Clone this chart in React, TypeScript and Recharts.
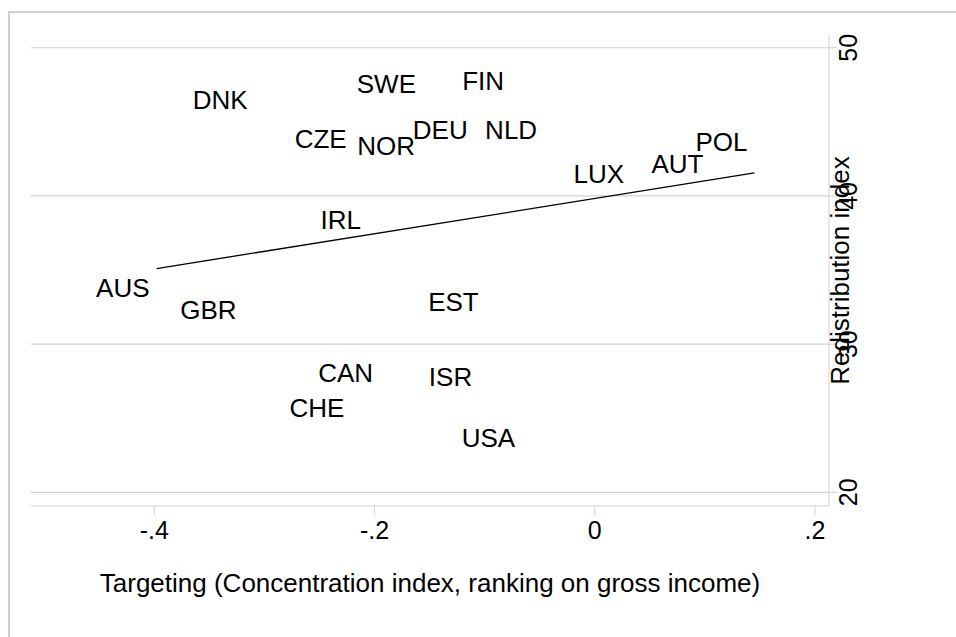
import React from "react";
import { ComposedChart, Scatter, XAxis, YAxis, ReferenceLine } from "recharts";

// country codes, targeting (x) and redistribution index (y)
const countries = ["DNK", "SWE", "FIN", "CZE", "NOR", "DEU", "NLD", "POL", "AUT", "LUX", "IRL", "AUS", "GBR", "EST", "CAN", "ISR", "CHE", "USA"];
const targeting = [-0.309, -0.156, -0.076, -0.219, -0.157, -0.109, -0.046, 0.145, 0.105, 0.033, -0.206, -0.398, -0.319, -0.099, -0.195, -0.105, -0.221, -0.066];
const redistribution = [46.5, 47.55, 47.8, 43.9, 43.4, 44.45, 44.45, 43.65, 42.2, 41.5, 38.4, 33.8, 32.3, 32.85, 28.05, 27.8, 25.75, 23.7];

// linear fit endpoints
const fitX = [-0.398, 0.145];
const fitY = [35.1, 41.55];

const xTicks = [-0.4, -0.2, 0, 0.2];
const yTicks = [20, 30, 40, 50];

const points = countries.map((name, i) => ({ name, x: targeting[i], y: redistribution[i] }));
const fit = fitX.map((x, i) => ({ x, y: fitY[i] }));

const FONT = "'Liberation Sans', Arial, Helvetica, sans-serif";
const GRID = "#d0d0d0";
const FS = 26;

const fmtX = (v: number) => (v === 0 ? "0" : v.toFixed(1).replace("0.", "."));

const CountryLabel = (props: any) => {
  const { cx, cy, payload } = props;
  return (
    <text x={cx - 7} y={cy} dy="0.36em" textAnchor="end" fontSize={FS} fill="#000" fontFamily={FONT}>
      {payload.name}
    </text>
  );
};

const YTick = (props: any) => {
  const { x, y, payload } = props;
  const bx = x + 20;
  return (
    <text x={bx} y={y} transform={`rotate(-90 ${bx} ${y})`} textAnchor="middle" fontSize={FS - 1} fill="#000" fontFamily={FONT}>
      {payload.value}
    </text>
  );
};

export default function App() {
  return (
    <div style={{ position: "absolute", left: 0, top: 0, width: 956, height: 637, overflow: "hidden", background: "#fff" }}>
      <div style={{ position: "absolute", left: 8, top: 11, width: 1100, height: 800, border: "2px solid #cfcfcf" }} />
      <div style={{ position: "absolute", left: 0, top: 0 }}>
        <ComposedChart width={956} height={637} margin={{ top: 35, left: 31, right: 0, bottom: 0 }} style={{ fontFamily: FONT }}>
          {yTicks.map((t) => (
            <ReferenceLine key={t} y={t} stroke={GRID} strokeWidth={1.2} />
          ))}
          <XAxis
            type="number"
            dataKey="x"
            domain={[-0.512, 0.2127]}
            ticks={xTicks}
            tickFormatter={fmtX}
            height={131}
            tickSize={9}
            tickMargin={6}
            stroke={GRID}
            tick={{ fill: "#000", fontSize: FS - 1 }}
            allowDataOverflow
            label={{
              content: (p: any) => (
                <text x={p.viewBox.x + p.viewBox.width / 2} y={p.viewBox.y + 86} textAnchor="middle" fontSize={FS} fill="#000" fontFamily={FONT}>
                  Targeting (Concentration index, ranking on gross income)
                </text>
              ),
            }}
          />
          <YAxis
            type="number"
            dataKey="y"
            orientation="right"
            domain={[19.08, 50.86]}
            ticks={yTicks}
            width={127}
            tickSize={8}
            tickMargin={0}
            stroke={GRID}
            tick={<YTick />}
            allowDataOverflow
            label={{
              content: (p: any) => {
                const lx = p.viewBox.x + 20;
                const ly = p.viewBox.y + p.viewBox.height / 2;
                return (
                  <text x={lx} y={ly} transform={`rotate(-90 ${lx} ${ly})`} textAnchor="middle" fontSize={FS} fill="#000" fontFamily={FONT}>
                    Redistribution index
                  </text>
                );
              },
            }}
          />
          <Scatter data={fit} fill="#000" line={{ stroke: "#000", strokeWidth: 1.3 }} shape={() => <g />} isAnimationActive={false} />
          <Scatter data={points} fill="#000" shape={<CountryLabel />} isAnimationActive={false} />
        </ComposedChart>
      </div>
    </div>
  );
}
